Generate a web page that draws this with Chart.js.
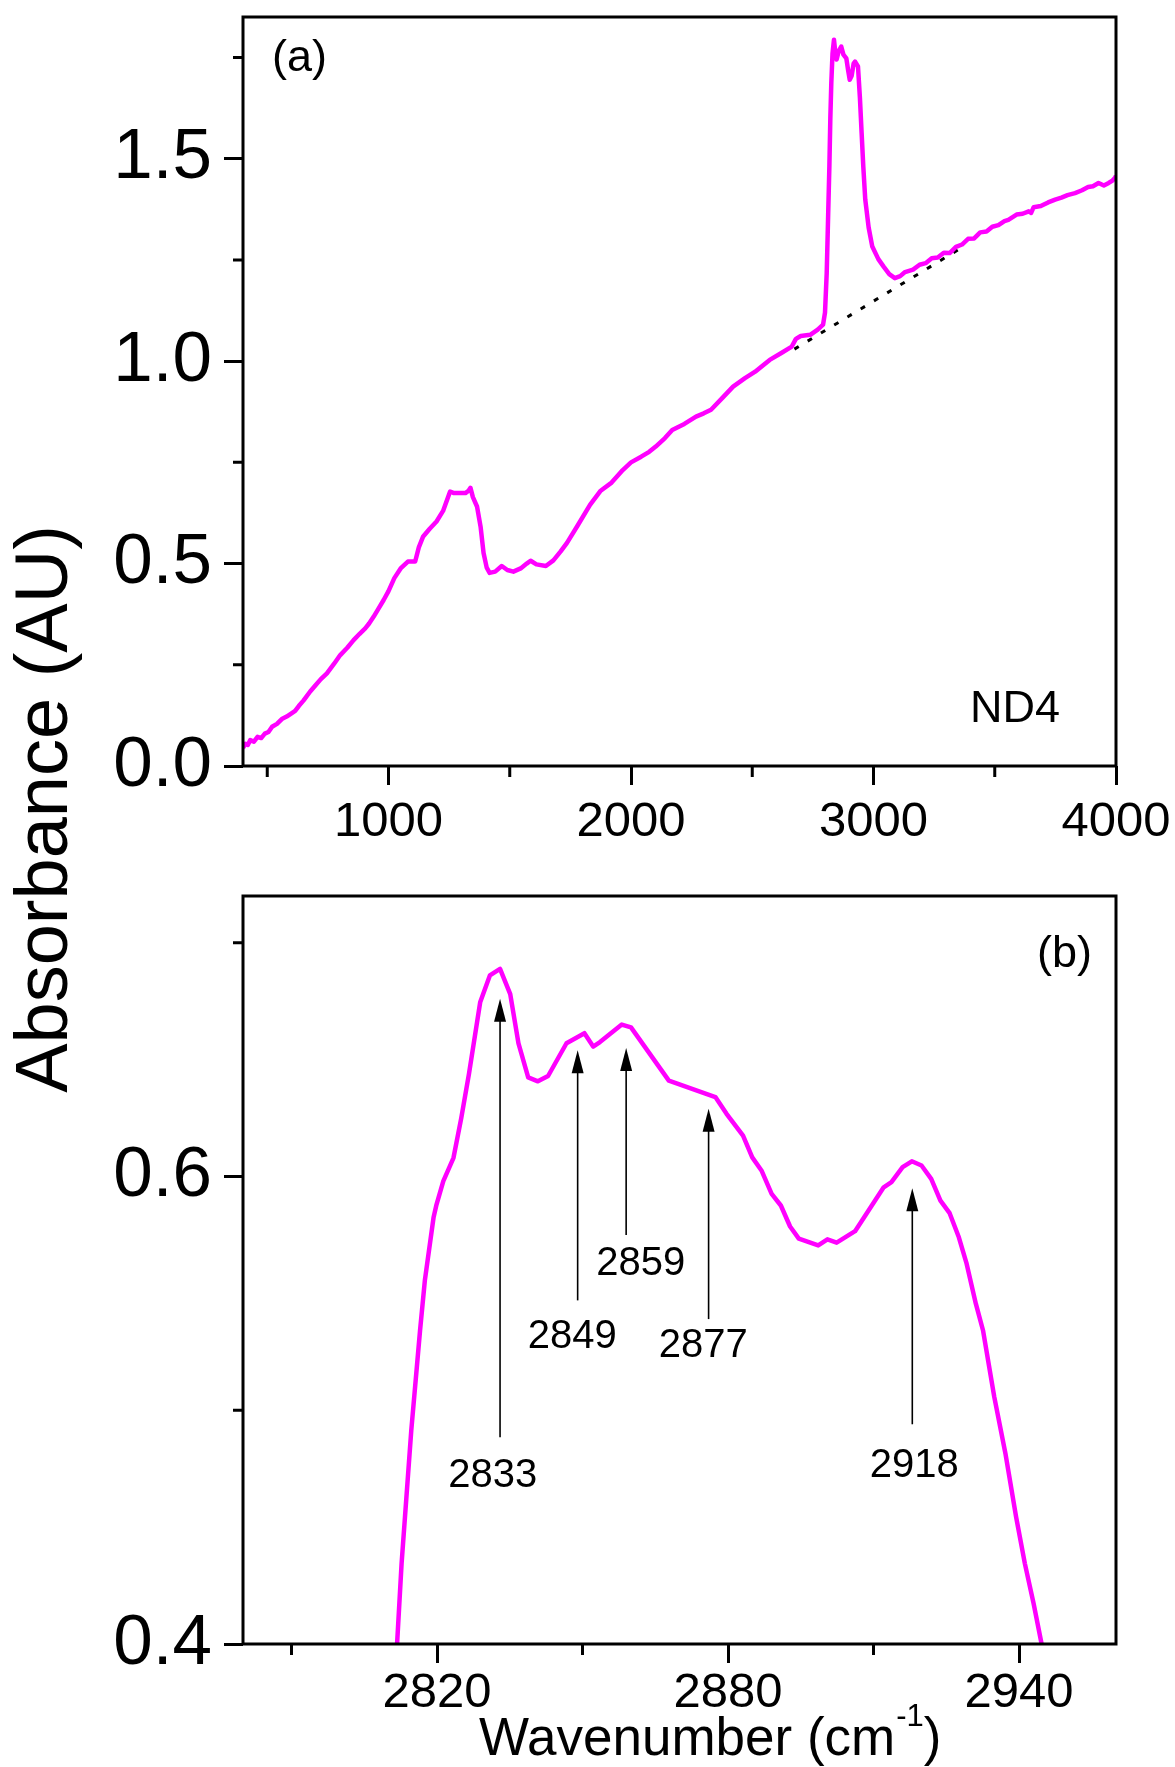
<!DOCTYPE html>
<html>
<head>
<meta charset="utf-8">
<script src="https://cdn.jsdelivr.net/npm/chart.js@4.4.1/dist/chart.umd.min.js"></script>
<style>
  html, body { margin: 0; padding: 0; background: #fff; }
  body { width: 1175px; height: 1767px; position: relative; overflow: hidden; font-family: 'Liberation Sans', Arial, sans-serif; }
  canvas { position: absolute; left: 0; }
  #chartA { top: 0; }
  #chartB { top: 880px; }
  #ytitle { position: absolute; left: 5px; top: 1208.5px; width: 800px; text-align: center; font-size: 74px; line-height: 74px; white-space: nowrap; transform-origin: 0 0; transform: rotate(-90deg); color: #000; }
  #xtitle { position: absolute; left: 479px; top: 1710px; font-size: 53px; line-height: 53px; white-space: nowrap; color: #000; }
  #xtitle sup { font-size: 31px; line-height: 0; vertical-align: baseline; position: relative; top: -29px; margin-left: 1px; }
</style>
</head>
<body>
<canvas id="chartA" width="1175" height="880"></canvas>
<canvas id="chartB" width="1175" height="887"></canvas>
<div id="ytitle">Absorbance (AU)</div>
<div id="xtitle">Wavenumber (cm<sup>-1</sup>)</div>
<script>
// panel (a): full spectrum, ND4
const specA_x = [400, 410, 420, 430, 445, 460, 475, 490, 505, 520, 540, 560, 580, 600, 615, 630, 650, 677, 700, 720,
  746, 775, 801, 830, 856, 880, 904, 920, 939, 960, 980, 1000, 1024, 1050, 1080, 1110, 1125, 1143, 1170, 1198,
  1225, 1254, 1270, 1300, 1317, 1330, 1338, 1348, 1365, 1380, 1392, 1405, 1417, 1440, 1467, 1490, 1515, 1545, 1570, 1586,
  1610, 1649, 1680, 1710, 1736, 1780, 1831, 1875, 1920, 1966, 2000, 2042, 2075, 2102, 2140, 2170, 2220, 2268, 2300, 2330,
  2375, 2421, 2470, 2512, 2545, 2572, 2620, 2663, 2680, 2700, 2739, 2770, 2792, 2800, 2807, 2813, 2818, 2822, 2826, 2831,
  2837, 2843, 2848, 2856, 2867, 2876, 2888, 2895, 2902, 2910, 2918, 2924, 2936, 2944, 2951, 2958, 2966, 2980, 2995, 3020,
  3041, 3065, 3088, 3110, 3130, 3163, 3190, 3215, 3240, 3265, 3290, 3314, 3340, 3365, 3390, 3415, 3440, 3466, 3490, 3515,
  3540, 3556, 3590, 3615, 3640, 3650, 3660, 3690, 3720, 3749, 3775, 3800, 3831, 3860, 3885, 3905, 3928, 3950, 3970, 3985,
  3995, 4000];
const specA_y = [0.045, 0.055, 0.052, 0.064, 0.060, 0.072, 0.069, 0.080, 0.084, 0.097, 0.104, 0.116, 0.122, 0.130, 0.136, 0.148, 0.162, 0.184, 0.200, 0.214,
  0.229, 0.252, 0.274, 0.292, 0.311, 0.326, 0.340, 0.352, 0.369, 0.390, 0.410, 0.432, 0.464, 0.488, 0.505, 0.505, 0.540, 0.567, 0.586, 0.604,
  0.630, 0.678, 0.674, 0.674, 0.674, 0.680, 0.687, 0.664, 0.641, 0.590, 0.526, 0.490, 0.477, 0.480, 0.494, 0.484, 0.480, 0.488, 0.500, 0.507,
  0.498, 0.494, 0.508, 0.530, 0.551, 0.594, 0.645, 0.680, 0.700, 0.731, 0.750, 0.764, 0.776, 0.789, 0.810, 0.830, 0.845, 0.863, 0.871, 0.880,
  0.908, 0.937, 0.958, 0.974, 0.990, 1.003, 1.020, 1.036, 1.055, 1.062, 1.065, 1.078, 1.090, 1.120, 1.217, 1.360, 1.480, 1.600, 1.687, 1.760,
  1.794, 1.760, 1.745, 1.765, 1.777, 1.757, 1.748, 1.720, 1.695, 1.705, 1.735, 1.740, 1.728, 1.650, 1.564, 1.480, 1.399, 1.330, 1.283, 1.252,
  1.234, 1.215, 1.205, 1.210, 1.220, 1.226, 1.238, 1.242, 1.254, 1.256, 1.268, 1.267, 1.282, 1.288, 1.302, 1.303, 1.318, 1.320, 1.332, 1.336,
  1.346, 1.349, 1.362, 1.364, 1.370, 1.366, 1.380, 1.383, 1.392, 1.399, 1.404, 1.410, 1.415, 1.422, 1.430, 1.432, 1.440, 1.434, 1.440, 1.446,
  1.452, 1.458];
// dotted baseline under the C-H band
const baseA_x = [2674, 3349];
const baseA_y = [1.0296, 1.275];

const xTicksA = [1000, 2000, 3000, 4000];
const xMinorA = [500, 1500, 2500, 3500];
const yTicksA = [0, 0.5, 1.0, 1.5];
const yMinorA = [0.25, 0.75, 1.25, 1.75];

// panel (b): zoom on 2780-2960 cm-1
const specB_x = [2811.5, 2812.7, 2814.7, 2816.5, 2817.5, 2819.3, 2819.9, 2821.3, 2823.4, 2825.0, 2826.6, 2828.9, 2830.9, 2833.0, 2835.1,
  2836.8, 2838.8, 2840.8, 2842.9, 2846.7, 2850.4, 2852.2, 2853.6, 2858.1, 2860.0, 2867.8, 2877.4, 2879.7, 2883.1, 2885.0,
  2886.9, 2889.0, 2890.9, 2892.8, 2894.6, 2898.6, 2900.5, 2902.4, 2906.2, 2912.1, 2913.7, 2916.0, 2917.9, 2919.9, 2921.9,
  2923.8, 2925.7, 2927.6, 2929.2, 2931.1, 2932.6, 2934.9, 2937.2, 2939.4, 2941.2, 2943.0, 2944.7, 2945.0];
const specB_y = [0.390, 0.4345, 0.4915, 0.534, 0.5556, 0.5826, 0.588, 0.598, 0.608, 0.625, 0.644, 0.6745, 0.686, 0.6888, 0.678,
  0.657, 0.6424, 0.6407, 0.643, 0.657, 0.6613, 0.6556, 0.6575, 0.665, 0.6638, 0.641, 0.634, 0.6268, 0.6175, 0.6082,
  0.6026, 0.5926, 0.5876, 0.5786, 0.5734, 0.5705, 0.5731, 0.5717, 0.5766, 0.5954, 0.5976, 0.604, 0.6065, 0.6047, 0.599,
  0.5897, 0.5843, 0.574, 0.5627, 0.5456, 0.534, 0.5057, 0.4815, 0.4544, 0.4345, 0.4174, 0.3996, 0.395];

const xTicksB = [2820, 2880, 2940];
const xMinorB = [2790, 2850, 2910];
const yTicksB = [0.4, 0.6];
const yMinorB = [0.5, 0.7];

// peak arrows in (b)
const peakLabels = ['2833', '2849', '2859', '2877', '2918'];
const arrowX = [2833, 2849, 2859, 2876, 2918];
const arrowTip = [0.676, 0.654, 0.655, 0.629, 0.595];
const arrowTail = [0.4885, 0.547, 0.575, 0.539, 0.494];
const labelX = [2831.5, 2847.9, 2862.0, 2874.9, 2918.4];
const labelY = [0.467, 0.5265, 0.558, 0.5226, 0.4714];

const MAGENTA = '#ff00ff';
const FONT = "'Liberation Sans', Arial, sans-serif";

Chart.defaults.font.family = FONT;
Chart.defaults.color = '#000';

const toPoints = (xs, ys) => xs.map((x, i) => ({ x: x, y: ys[i] }));

// box, minor ticks, text and arrow annotations
const framePlugin = {
  id: 'frame',
  afterDraw(chart, args, opts) {
    const { ctx, chartArea: a, scales } = chart;
    ctx.save();
    ctx.strokeStyle = '#000';
    ctx.lineWidth = 3;
    ctx.strokeRect(a.left, a.top, a.right - a.left, a.bottom - a.top);

    ctx.beginPath();
    (opts.minorX || []).forEach(v => {
      const px = scales.x.getPixelForValue(v);
      ctx.moveTo(px, a.bottom);
      ctx.lineTo(px, a.bottom + 11);
    });
    (opts.minorY || []).forEach(v => {
      const py = scales.y.getPixelForValue(v);
      ctx.moveTo(a.left, py);
      ctx.lineTo(a.left - 10, py);
    });
    ctx.stroke();

    ctx.fillStyle = '#000';
    (opts.arrows || []).forEach(ar => {
      const px = scales.x.getPixelForValue(ar.x);
      const tip = scales.y.getPixelForValue(ar.tip);
      const tail = scales.y.getPixelForValue(ar.tail);
      ctx.lineWidth = 1.6;
      ctx.beginPath();
      ctx.moveTo(px, tail);
      ctx.lineTo(px, tip + 20);
      ctx.stroke();
      ctx.beginPath();
      ctx.moveTo(px, tip);
      ctx.lineTo(px - 6, tip + 23);
      ctx.lineTo(px + 6, tip + 23);
      ctx.closePath();
      ctx.fill();
    });

    (opts.texts || []).forEach(t => {
      ctx.font = t.size + 'px ' + FONT;
      ctx.textAlign = t.align || 'left';
      ctx.textBaseline = 'alphabetic';
      ctx.fillText(t.text, scales.x.getPixelForValue(t.x), scales.y.getPixelForValue(t.y));
    });
    ctx.restore();
  }
};

function noPad(s) {
  s.paddingTop = 0;
  s.paddingBottom = 0;
  s.paddingLeft = 0;
  s.paddingRight = 0;
}

function axisX(min, max, ticks, fit, pad) {
  return {
    type: 'linear', position: 'bottom', min: min, max: max,
    afterBuildTicks: s => { s.ticks = ticks.map(v => ({ value: v })); },
    afterFit: s => { s.height = fit; noPad(s); },
    border: { display: false },
    grid: { drawOnChartArea: false, drawTicks: true, tickLength: 19, tickWidth: 3, tickColor: '#000' },
    ticks: { font: { size: 49 }, color: '#000', padding: pad, maxRotation: 0, autoSkip: false, callback: v => String(v) }
  };
}

function axisY(min, max, ticks) {
  return {
    type: 'linear', position: 'left', min: min, max: max,
    afterBuildTicks: s => { s.ticks = ticks.map(v => ({ value: v })); },
    afterFit: s => { s.width = 243; noPad(s); },
    border: { display: false },
    grid: { drawOnChartArea: false, drawTicks: true, tickLength: 19, tickWidth: 3, tickColor: '#000' },
    ticks: { font: { size: 71 }, color: '#000', padding: 12, autoSkip: false, callback: v => v.toFixed(1) }
  };
}

const chartA = new Chart(document.getElementById('chartA'), {
  type: 'line',
  data: {
    datasets: [
      { data: toPoints(specA_x, specA_y), borderColor: MAGENTA, borderWidth: 4.5, borderJoinStyle: 'round', pointRadius: 0, tension: 0, fill: false },
      { data: toPoints(baseA_x, baseA_y), borderColor: '#000', borderWidth: 3, borderDash: [5, 10.5], pointRadius: 0, fill: false }
    ]
  },
  options: {
    responsive: false,
    animation: false,
    layout: { padding: { left: 0, right: 59, top: 17, bottom: 0 } },
    scales: { x: axisX(400, 4000, xTicksA, 114, 8), y: axisY(0, 1.85, yTicksA) },
    plugins: {
      legend: { display: false },
      tooltip: { enabled: false },
      frame: {
        minorX: xMinorA, minorY: yMinorA,
        texts: [
          { text: '(a)', x: 520, y: 1.717, size: 45 },
          { text: 'ND4', x: 3398, y: 0.1087, size: 45 }
        ]
      }
    }
  },
  plugins: [framePlugin]
});

const chartB = new Chart(document.getElementById('chartB'), {
  type: 'line',
  data: {
    datasets: [
      { data: toPoints(specB_x, specB_y), borderColor: MAGENTA, borderWidth: 4.5, borderJoinStyle: 'round', pointRadius: 0, tension: 0, fill: false }
    ]
  },
  options: {
    responsive: false,
    animation: false,
    layout: { padding: { left: 0, right: 59, top: 16, bottom: 0 } },
    scales: { x: axisX(2780, 2960, xTicksB, 123, 1), y: axisY(0.4, 0.72, yTicksB) },
    plugins: {
      legend: { display: false },
      tooltip: { enabled: false },
      frame: {
        minorX: xMinorB, minorY: yMinorB,
        arrows: arrowX.map((x, i) => ({ x: x, tip: arrowTip[i], tail: arrowTail[i] })),
        texts: [{ text: '(b)', x: 2943.7, y: 0.6897, size: 45 }].concat(
          peakLabels.map((t, i) => ({ text: t, x: labelX[i], y: labelY[i], size: 40, align: 'center' })))
      }
    }
  },
  plugins: [framePlugin]
});
</script>
</body>
</html>
